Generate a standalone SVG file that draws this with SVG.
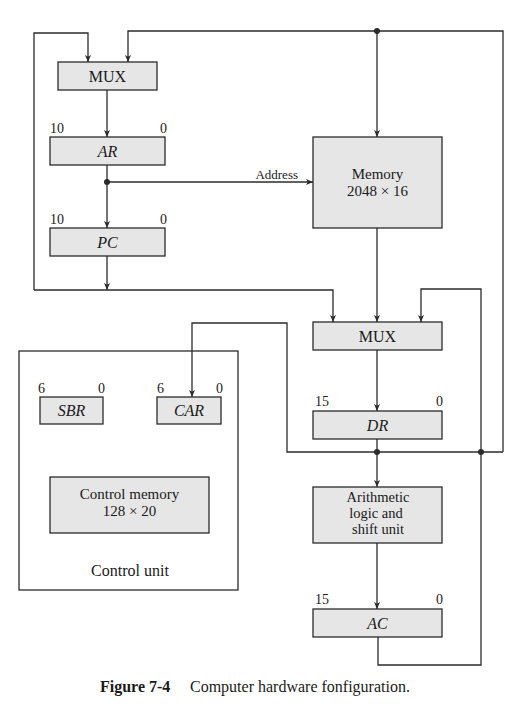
<svg xmlns="http://www.w3.org/2000/svg" width="524" height="721" viewBox="0 0 524 721">
  <style>
    .box { fill: #e6e6e6; stroke: #2b2b2b; stroke-width: 1.3; }
    .frame { fill: none; stroke: #2b2b2b; stroke-width: 1.3; }
    .wire { fill: none; stroke: #2b2b2b; stroke-width: 1.3; }
    .arrow { marker-end: url(#head); }
    .dot { fill: #2b2b2b; }
    text { font-family: "Liberation Serif", "DejaVu Serif", serif; fill: #1a1a1a; }
    .lbl { font-size: 16px; text-anchor: middle; }
    .multi { font-size: 15px; text-anchor: middle; }
    .alu { font-size: 14.5px; text-anchor: middle; }
    .reg { font-size: 16px; text-anchor: middle; font-style: italic; }
    .bit { font-size: 14px; }
    .end { text-anchor: end; }
    .small { font-size: 13px; text-anchor: end; }
    .cap { font-size: 16px; }
  </style>
  <defs>
    <marker id="head" markerUnits="userSpaceOnUse" markerWidth="8" markerHeight="6" refX="7" refY="3" orient="auto">
      <path d="M0,0 L7,3 L0,6 L1.8,3 z" fill="#2b2b2b"/>
    </marker>
  </defs>

  <!-- connectors -->
  <g id="connectors">
    <!-- PC / left loop back to the address MUX and on to the data MUX -->
    <path class="wire arrow" d="M34,290 V33 H88 V62"/>
    <path class="wire arrow" d="M34,290 H333 V322"/>
    <path class="wire arrow" d="M107,256 V290"/>
    <!-- DR bus: up the right side, across the top, back into the address MUX -->
    <path class="wire arrow" d="M503,452 V31 H128 V62"/>
    <path class="wire arrow" d="M377,31 V137"/>
    <!-- DR bus to the control address register -->
    <path class="wire arrow" d="M503,452 H287 V323 H192 V397"/>
    <!-- address path -->
    <path class="wire arrow" d="M107,90 V137"/>
    <path class="wire arrow" d="M107,165 V228"/>
    <path class="wire arrow" d="M107,182 H313"/>
    <!-- data path -->
    <path class="wire arrow" d="M377,228 V322"/>
    <path class="wire arrow" d="M377,350 V411"/>
    <path class="wire arrow" d="M377,439 V487"/>
    <path class="wire arrow" d="M377,543 V609"/>
    <!-- AC feedback into the data MUX -->
    <path class="wire arrow" d="M378,637 V665 H481 V289 H421 V322"/>
    <circle class="dot" cx="377" cy="31" r="3"/>
    <circle class="dot" cx="107" cy="182" r="3"/>
    <circle class="dot" cx="377" cy="452" r="3"/>
    <circle class="dot" cx="481" cy="452" r="3"/>
    <text x="298" y="179" class="small">Address</text>
  </g>

  <g id="mux-address">
    <rect class="box" x="58" y="62" width="99" height="28"/>
    <text class="lbl" x="107.5" y="81.5">MUX</text>
  </g>

  <g id="ar">
    <text class="bit" x="50" y="133">10</text>
    <text class="bit end" x="167" y="133">0</text>
    <rect class="box" x="50" y="137" width="115" height="28"/>
    <text class="reg" x="107.5" y="156.5">AR</text>
  </g>

  <g id="pc">
    <text class="bit" x="50" y="224">10</text>
    <text class="bit end" x="167" y="224">0</text>
    <rect class="box" x="50" y="228" width="115" height="28"/>
    <text class="reg" x="107.5" y="247.5">PC</text>
  </g>

  <g id="memory">
    <rect class="box" x="313" y="137" width="129" height="91"/>
    <text class="multi" x="377.5" y="179">Memory</text>
    <text class="multi" x="377.5" y="196">2048 × 16</text>
  </g>

  <g id="mux-data">
    <rect class="box" x="313" y="322" width="129" height="28"/>
    <text class="lbl" x="377.5" y="341.5">MUX</text>
  </g>

  <g id="dr">
    <text class="bit" x="315" y="406">15</text>
    <text class="bit end" x="443" y="406">0</text>
    <rect class="box" x="313" y="411" width="129" height="28"/>
    <text class="reg" x="377.5" y="430.5">DR</text>
  </g>

  <g id="alu">
    <rect class="box" x="313" y="487" width="129" height="56"/>
    <text class="alu" x="378" y="501.5">Arithmetic</text>
    <text class="alu" x="376" y="517.7">logic and</text>
    <text class="alu" x="378" y="533.9">shift unit</text>
  </g>

  <g id="ac">
    <text class="bit" x="315" y="604">15</text>
    <text class="bit end" x="443" y="604">0</text>
    <rect class="box" x="313" y="609" width="129" height="28"/>
    <text class="reg" x="377.5" y="628.5">AC</text>
  </g>

  <g id="control-unit">
    <rect class="frame" x="19" y="351" width="219" height="239"/>
    <text class="lbl" x="130" y="576">Control unit</text>
  </g>

  <g id="sbr">
    <text class="bit" x="38" y="393">6</text>
    <text class="bit end" x="105" y="393">0</text>
    <rect class="box" x="40" y="397" width="63" height="27"/>
    <text class="reg" x="71.5" y="415.5">SBR</text>
  </g>

  <g id="car">
    <text class="bit" x="157" y="393">6</text>
    <text class="bit end" x="223" y="393">0</text>
    <rect class="box" x="157" y="397" width="64" height="27"/>
    <text class="reg" x="189" y="415.5">CAR</text>
  </g>

  <g id="control-memory">
    <rect class="box" x="50" y="477" width="159" height="56"/>
    <text class="multi" x="129.5" y="499">Control memory</text>
    <text class="multi" x="129.5" y="516">128 × 20</text>
  </g>

  <g id="caption">
    <text class="cap" x="100" y="692" font-weight="bold">Figure 7-4</text>
    <text class="cap" x="190" y="692">Computer hardware fonfiguration.</text>
  </g>
</svg>
